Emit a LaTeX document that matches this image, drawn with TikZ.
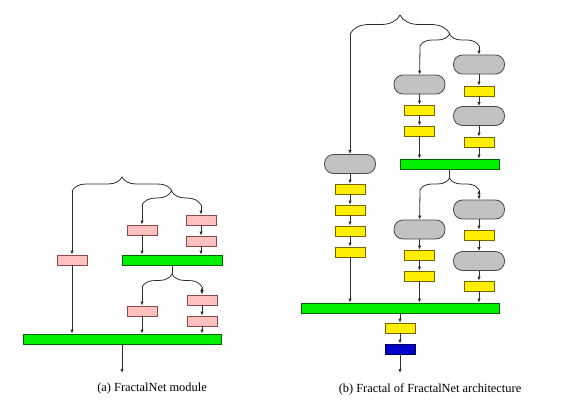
\documentclass[tikz,border=0pt]{standalone}
\usepackage{fontspec}
\setmainfont{Liberation Serif}
\usepackage{xcolor}
\usepackage{tikz}
\usetikzlibrary{positioning, arrows.meta, decorations.pathreplacing}

\definecolor{pinkfill}{HTML}{FFC0C0}
\definecolor{pinkline}{HTML}{8A4A4A}
\definecolor{yellowfill}{HTML}{FFEE00}
\definecolor{yellowline}{HTML}{7A6400}
\definecolor{grayfill}{HTML}{C2C2C2}
\definecolor{grayline}{HTML}{4A4A4A}
\definecolor{greenfill}{HTML}{00F000}
\definecolor{greenline}{HTML}{006400}
\definecolor{bluefill}{HTML}{0000CC}
\definecolor{blueline}{HTML}{000055}
\definecolor{wirecol}{HTML}{2E2E2E}

\begin{document}
\begin{tikzpicture}[x=1pt, y=-1pt, node distance=21pt, on grid,
        >={Latex[length=4pt, width=3.4pt]},
        wire/.style={draw=wirecol, line width=0.8pt},
        blk/.style={draw, line width=0.8pt, inner sep=0pt, minimum width=30pt, minimum height=10pt},
        pinkbox/.style={blk, fill=pinkfill, draw=pinkline},
        yellowbox/.style={blk, fill=yellowfill, draw=yellowline},
        bluebox/.style={blk, fill=bluefill, draw=blueline},
        grayblock/.style={blk, fill=grayfill, draw=grayline, rounded corners=9pt, minimum width=51pt, minimum height=19pt},
        greenbar/.style={blk, fill=greenfill, draw=greenline},
        accolade/.style={wire, decorate, decoration={brace, amplitude=#1}},
        caption/.style={font=\fontsize{12.4}{14}\selectfont}]
        \useasboundingbox (0,0) rectangle (566,402);

        % Blocs (a)
        \node[pinkbox] (a_1) at (72,260) {};
        \node[pinkbox] (a_2) at (142,230) {};
        \node[pinkbox] (a_3) at (201,220) {};
        \node[pinkbox] (a_4) [below=of a_3] {};
        \node[greenbar, minimum width=100pt] (ga_1) at (172,260) {};
        \node[pinkbox] (a_5) at (142,311) {};
        \node[pinkbox] (a_6) at (202,300) {};
        \node[pinkbox] (a_7) [below=of a_6] {};
        \node[greenbar, minimum width=198pt] (ga_2) at (122,339) {};
        \coordinate (a_out) at (122,373);

        % Accolades (a)
        \coordinate (ba_l) at (72,191);
        \coordinate (ba_r) at (172,191);
        \coordinate (bb_l) at (142,205);
        \coordinate (bb_r) at (201,205);
        \coordinate (bc_t) at (172,274);
        \coordinate (bc_l) at (142,287);
        \coordinate (bc_r) at (202,287);
        \draw[accolade=14] (ba_l) -- (ba_r);
        \draw[accolade=14] (bb_l) -- (bb_r);
        \draw[accolade=13] (bc_l) -- (bc_r);
        \draw[wire] (ga_1) -- (bc_t);

        % Flèches (a)
        \path[wire, ->]
            (ba_l) edge (a_1)
            (bb_l) edge (a_2)
            (bb_r) edge (a_3)
            (a_3) edge (a_4)
            (a_2) edge (a_2 |- ga_1.north)
            (a_4) edge (a_4 |- ga_1.north)
            (bc_l) edge (a_5)
            (bc_r) edge (a_6)
            (a_6) edge (a_7)
            (a_1) edge (a_1 |- ga_2.north)
            (a_5) edge (a_5 |- ga_2.north)
            (a_7) edge (a_7 |- ga_2.north)
            (ga_2) edge (a_out);

        % Blocs (b)
        \node[grayblock] (c_1) at (350,164) {};
        \node[yellowbox] (y_1) [below=25pt of c_1] {};
        \node[yellowbox] (y_2) [below=of y_1] {};
        \node[yellowbox] (y_3) [below=of y_2] {};
        \node[yellowbox] (y_4) [below=of y_3] {};
        \node[grayblock] (c_2) at (419.5,84.5) {};
        \node[yellowbox] (y_5) [below=25.5pt of c_2] {};
        \node[yellowbox] (y_6) [below=of y_5] {};
        \node[grayblock] (c_3) at (479,64.5) {};
        \node[yellowbox] (y_7) [below=26.5pt of c_3] {};
        \node[grayblock] (c_4) [below=25pt of y_7] {};
        \node[yellowbox] (y_8) [below=26pt of c_4] {};
        \node[greenbar, minimum width=99pt] (gb_1) at (449.5,164) {};
        \node[grayblock] (c_5) at (419.5,229.5) {};
        \node[yellowbox] (y_9) [below=25.5pt of c_5] {};
        \node[yellowbox] (y_10) [below=of y_9] {};
        \node[grayblock] (c_6) at (479,209.5) {};
        \node[yellowbox] (y_11) [below=25.5pt of c_6] {};
        \node[grayblock] (c_7) [below=26pt of y_11] {};
        \node[yellowbox] (y_12) [below=25pt of c_7] {};
        \node[greenbar, minimum width=198pt] (gb_2) at (400,308) {};
        \node[yellowbox] (y_13) [below=20pt of gb_2] {};
        \node[bluebox] (o_1) [below=of y_13] {};
        \coordinate (b_out) at (400,373);

        % Accolades (b)
        \coordinate (bd_l) at (350,34);
        \coordinate (bd_r) at (450,34);
        \coordinate (be_l) at (420,46);
        \coordinate (be_r) at (479,46);
        \coordinate (bf_t) at (449.5,178);
        \coordinate (bf_l) at (420,190);
        \coordinate (bf_r) at (479,190);
        \draw[accolade=19] (bd_l) -- (bd_r);
        \draw[accolade=12] (be_l) -- (be_r);
        \draw[accolade=12] (bf_l) -- (bf_r);
        \draw[wire] (gb_1) -- (bf_t);

        % Flèches (b)
        \path[wire, ->]
            (bd_l) edge (c_1)
            (c_1) edge (y_1)
            (y_1) edge (y_2)
            (y_2) edge (y_3)
            (y_3) edge (y_4)
            (y_4) edge (y_4 |- gb_2.north)
            (be_l) edge (c_2)
            (c_2) edge (y_5)
            (y_5) edge (y_6)
            (y_6) edge (y_6 |- gb_1.north)
            (be_r) edge (c_3)
            (c_3) edge (y_7)
            (y_7) edge (c_4)
            (c_4) edge (y_8)
            (y_8) edge (y_8 |- gb_1.north)
            (bf_l) edge (c_5)
            (c_5) edge (y_9)
            (y_9) edge (y_10)
            (y_10) edge (y_10 |- gb_2.north)
            (bf_r) edge (c_6)
            (c_6) edge (y_11)
            (y_11) edge (c_7)
            (c_7) edge (y_12)
            (y_12) edge (y_12 |- gb_2.north)
            (gb_2) edge (y_13)
            (y_13) edge (o_1)
            (o_1) edge (b_out);

        % Légendes
        \node[caption] (cap_a) at (152,389) {(a) FractalNet module};
        \node[caption] (cap_b) at (430,389) {(b) Fractal of FractalNet architecture};
    \end{tikzpicture}
\end{document}
